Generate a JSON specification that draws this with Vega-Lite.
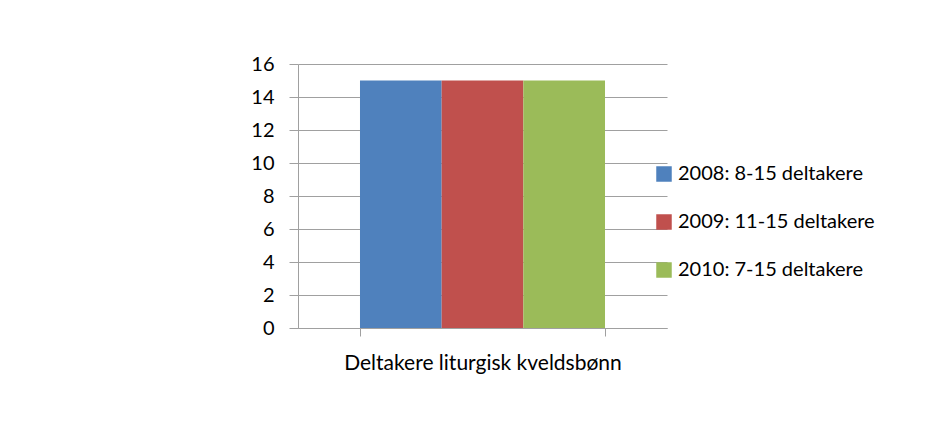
{
  "$schema": "https://vega.github.io/schema/vega-lite/v6.json",
  "width": 369,
  "height": 264,
  "autosize": {"type": "none"},
  "padding": {"left": 298, "top": 64, "right": 263, "bottom": 102},
  "background": "white",
  "data": {
    "values": [
      {"kategori": "Deltakere liturgisk kveldsbønn", "serie": "2008: 8-15 deltakere", "verdi": 15},
      {"kategori": "Deltakere liturgisk kveldsbønn", "serie": "2009: 11-15 deltakere", "verdi": 15},
      {"kategori": "Deltakere liturgisk kveldsbønn", "serie": "2010: 7-15 deltakere", "verdi": 15}
    ]
  },
  "mark": {"type": "bar"},
  "encoding": {
    "x": {
      "field": "kategori",
      "type": "nominal",
      "title": null,
      "scale": {"paddingInner": 0, "paddingOuter": 0.253},
      "axis": {
        "labelAngle": 0,
        "tickBand": "extent",
        "tickSize": 8,
        "labelPadding": 16,
        "labelFontSize": 21,
        "labelFont": "Lato",
        "labelColor": "black",
        "domainColor": "#a0a0a0",
        "tickColor": "#a0a0a0",
        "labelLimit": 500
      }
    },
    "xOffset": {
      "field": "serie",
      "type": "nominal",
      "scale": {"paddingInner": 0, "paddingOuter": 0}
    },
    "y": {
      "field": "verdi",
      "type": "quantitative",
      "title": null,
      "scale": {"domain": [0, 16], "nice": false},
      "axis": {
        "values": [0, 2, 4, 6, 8, 10, 12, 14, 16],
        "tickSize": 9,
        "labelPadding": 15,
        "labelFontSize": 20,
        "labelFont": "Lato",
        "labelColor": "black",
        "domainColor": "#a0a0a0",
        "tickColor": "#a0a0a0",
        "gridColor": "#a0a0a0",
        "grid": true
      }
    },
    "color": {
      "field": "serie",
      "type": "nominal",
      "title": null,
      "scale": {"range": ["#4F81BD", "#C0504D", "#9BBB59"]},
      "legend": {
        "orient": "none",
        "legendX": 356,
        "legendY": 100,
        "symbolType": "square",
        "symbolSize": 240,
        "symbolStrokeWidth": 0,
        "labelFontSize": 20,
        "labelFont": "Lato",
        "labelColor": "black",
        "labelOffset": 4,
        "rowPadding": 28,
        "labelLimit": 400
      }
    }
  },
  "config": {
    "view": {"stroke": null},
    "axis": {"domainWidth": 1, "tickWidth": 1, "gridWidth": 1}
  }
}
